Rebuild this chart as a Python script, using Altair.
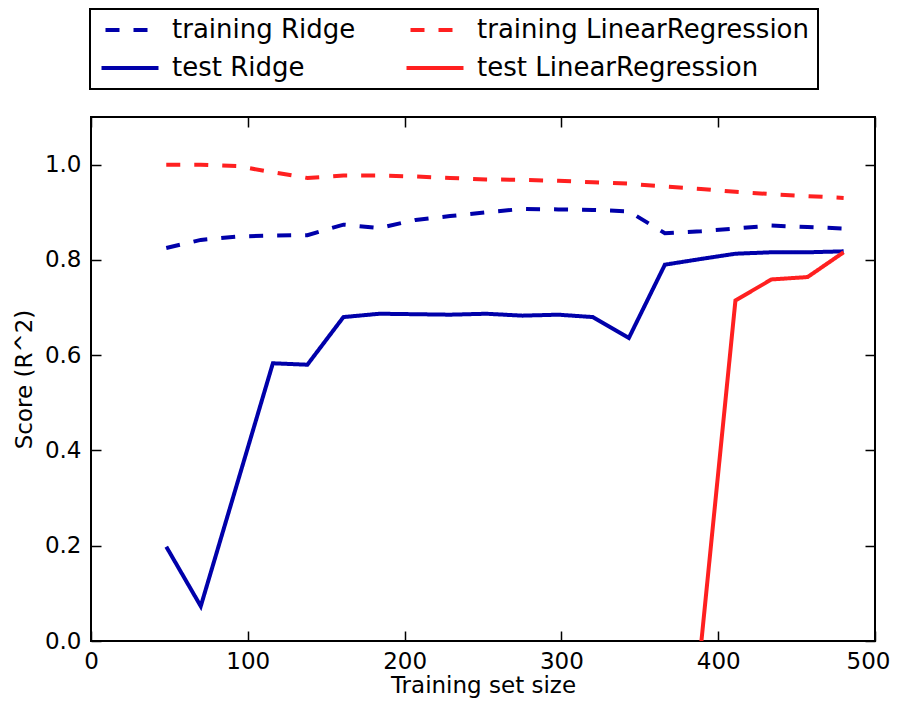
import altair as alt
import pandas as pd

sizes = [48, 70, 93, 116, 138, 161, 184, 207, 229, 252, 275, 298, 320, 343, 366, 389, 411, 434, 457, 480]
train_ridge = [0.825, 0.842, 0.849, 0.851, 0.852, 0.874, 0.867, 0.884, 0.892, 0.900,
               0.907, 0.906, 0.905, 0.902, 0.856, 0.860, 0.866, 0.872, 0.869, 0.866]
test_ridge = [0.198, 0.073, 0.328, 0.583, 0.580, 0.680, 0.687, 0.686, 0.685, 0.687,
              0.683, 0.685, 0.680, 0.636, 0.790, 0.802, 0.813, 0.816, 0.816, 0.818]
train_lr = [1.000, 1.000, 0.997, 0.984, 0.972, 0.977, 0.977, 0.975, 0.972, 0.969,
            0.968, 0.966, 0.963, 0.960, 0.954, 0.949, 0.943, 0.938, 0.934, 0.930]
test_lr_sizes = [389, 411, 434, 457, 480]
test_lr = [-0.01, 0.715, 0.759, 0.764, 0.816]

# legend is filled column by column
series_names = ["training Ridge", "test Ridge", "training LinearRegression", "test LinearRegression"]
series_colors = ["#0000aa", "#0000aa", "#ff2020", "#ff2020"]
series_dashes = [[14, 14], [1, 0], [14, 14], [1, 0]]

x_ticks = [0, 100, 200, 300, 400, 500]
y_ticks = [0.0, 0.2, 0.4, 0.6, 0.8, 1.0]

rows = []
for name, xs, vals in [("training Ridge", sizes, train_ridge),
                       ("test Ridge", sizes, test_ridge),
                       ("training LinearRegression", sizes, train_lr),
                       ("test LinearRegression", test_lr_sizes, test_lr)]:
    for xv, yv in zip(xs, vals):
        rows.append({"size": xv, "score": yv, "series": name})
df = pd.DataFrame(rows)

W, H = 784, 524
xscale = alt.Scale(domain=[0, 500], nice=False)
yscale = alt.Scale(domain=[0, 1.1], nice=False, zero=False)

legend = alt.Legend(
    title=None, orient="none", legendX=-1, legendY=-108, columns=2,
    padding=8, rowPadding=12, columnPadding=42,
    strokeColor="black", fillColor="white", cornerRadius=0,
    labelFont="DejaVu Sans", labelFontSize=26, labelLimit=600, labelColor="black",
    symbolType="M-3,0H3", symbolSize=361, symbolStrokeWidth=4,
    symbolOffset=19, labelOffset=29, symbolDashOffset=24,
)

lines = alt.Chart(df).mark_line(strokeWidth=4, strokeCap="butt", clip=True).encode(
    x=alt.X("size:Q", scale=xscale,
            axis=alt.Axis(values=x_ticks, title="Training set size", orient="bottom",
                          tickSize=0, domain=False, grid=False, labelFlush=False,
                          labelOffset={"condition": {"test": "datum.value >= 500", "value": -7}, "value": 0},
                          labelPadding=9, titlePadding=1)),
    y=alt.Y("score:Q", scale=yscale,
            axis=alt.Axis(values=y_ticks, format=".1f", title="Score (R^2)", orient="left",
                          tickSize=0, domain=False, grid=False, labelFlush=False,
                          labelPadding=10, titlePadding=8)),
    color=alt.Color("series:N", scale=alt.Scale(domain=series_names, range=series_colors), legend=legend),
    strokeDash=alt.StrokeDash("series:N", scale=alt.Scale(domain=series_names, range=series_dashes), legend=legend),
)

tick_style = dict(labels=False, domain=False, grid=False, title=None,
                  tickSize=10, tickWidth=1.5, tickColor="black")

ticks_a = alt.Chart(df).mark_point(opacity=0, size=1).encode(
    x=alt.X("size:Q", scale=xscale, axis=alt.Axis(values=x_ticks, orient="top", offset=-H, **tick_style)),
    y=alt.Y("score:Q", scale=yscale, axis=alt.Axis(values=y_ticks, orient="right", offset=-W, **tick_style)),
)
ticks_b = alt.Chart(df).mark_point(opacity=0, size=1).encode(
    x=alt.X("size:Q", scale=xscale, axis=alt.Axis(values=x_ticks, orient="bottom", offset=-H, **tick_style)),
    y=alt.Y("score:Q", scale=yscale, axis=alt.Axis(values=y_ticks, orient="left", offset=-W, **tick_style)),
)

chart = alt.layer(lines, ticks_a, ticks_b).resolve_axis(
    x="independent", y="independent"
).properties(
    width=W, height=H,
    padding={"left": 83, "top": 109, "right": 16, "bottom": 57},
    autosize=alt.AutoSizeParams(type="none"),
    background="white",
).configure_view(
    stroke="black", strokeWidth=2
).configure_axis(
    labelFont="DejaVu Sans", labelFontSize=23, labelColor="black",
    titleFont="DejaVu Sans", titleFontSize=23, titleFontWeight="normal", titleColor="black",
).configure_legend(
    strokeWidth=2
)

chart.save("out.html", embed_options={"renderer": "svg", "actions": False})
